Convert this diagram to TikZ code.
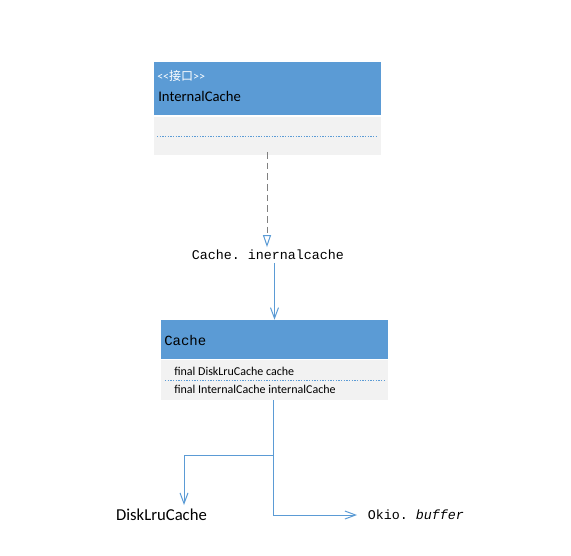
\documentclass[tikz,border=0pt]{standalone}
\usepackage{fontspec}
\setmainfont{Carlito}
\setmonofont{Liberation Mono}
\newfontfamily\cjk{Noto Sans CJK SC}
\usetikzlibrary{arrows.meta,positioning}

\definecolor{hdblue}{HTML}{5B9BD5}
\definecolor{bodygray}{HTML}{F2F2F2}
\definecolor{dashgray}{HTML}{808080}

\tikzset{
  hd/.style={fill=hdblue, inner sep=0pt, minimum width=227*0.75pt},
  bd/.style={fill=bodygray, inner sep=0pt, minimum width=227*0.75pt},
  sep/.style={hdblue, line width=0.5pt, dash pattern=on 1pt off 1pt},
  link/.style={hdblue, line width=0.75pt, -{Straight Barb[length=8pt,width=6pt]}},
  realize/.style={dashgray, line width=0.75pt, dash pattern=on 5pt off 3pt,
    -{Triangle[open,length=9pt,width=6pt,color=hdblue]}},
  member/.style={anchor=west, font=\fontsize{9}{10}\selectfont, inner sep=0pt},
}

\begin{document}
\begin{tikzpicture}[x=0.75pt,y=-0.75pt]
\useasboundingbox (0,0) rectangle (571,556);

% InternalCache
\node[hd, minimum height=53*0.75pt] (ichd) at (267,88.5) {};
\node[bd, minimum height=38*0.75pt] (icbd) at (267,136) {};
\draw[sep] (157,136) -- (378,136);
\node[anchor=west, text=white, inner sep=0pt, font=\fontsize{9}{10}\selectfont] at (157,75.5) {{<}{<}{\cjk 接口}{>}{>}};
\node[anchor=west, inner sep=0pt, font=\fontsize{11}{12}\selectfont] (icname) at (158,96) {InternalCache};

\node[font=\ttfamily\fontsize{10}{12}\selectfont, inner sep=2pt] (ref) at (268,255) {Cache. inernalcache};

% Cache
\node[hd, minimum height=39*0.75pt] (cachehd) at (274.5,339.5) {};
\node[bd, minimum height=40*0.75pt] (cachebd) at (274.5,380) {};
\draw[sep] (165,380.5) -- (385,380.5);
\node[anchor=west, inner sep=0pt, font=\ttfamily\fontsize{10.5}{12}\selectfont] (cachename) at (164,340) {Cache};
\node[member] (m1) at (174,371.5) {final DiskLruCache cache};
\node[member] (m2) at (174,389) {final InternalCache internalCache};

\node[font=\fontsize{12.5}{14}\selectfont] (disk) at (161.5,515) {DiskLruCache};
\node[anchor=west, inner ysep=3pt, inner xsep=8pt, font=\ttfamily\fontsize{10}{12}\selectfont] (okio) at (357,515) {Okio. \textit{buffer}};

\coordinate (icout) at (267,152);
\coordinate (cacheout) at (273,400);
\coordinate (br) at (273,455);
\coordinate (dkend) at (184,505);

\draw[realize] (icout) -- (ref.north -| icout);
\draw[link] (ref.south -| cachehd.north) -- (cachehd.north);
\draw[link] (cacheout) |- (okio.west);
\draw[link] (br) -| (dkend);

\end{tikzpicture}
\end{document}
